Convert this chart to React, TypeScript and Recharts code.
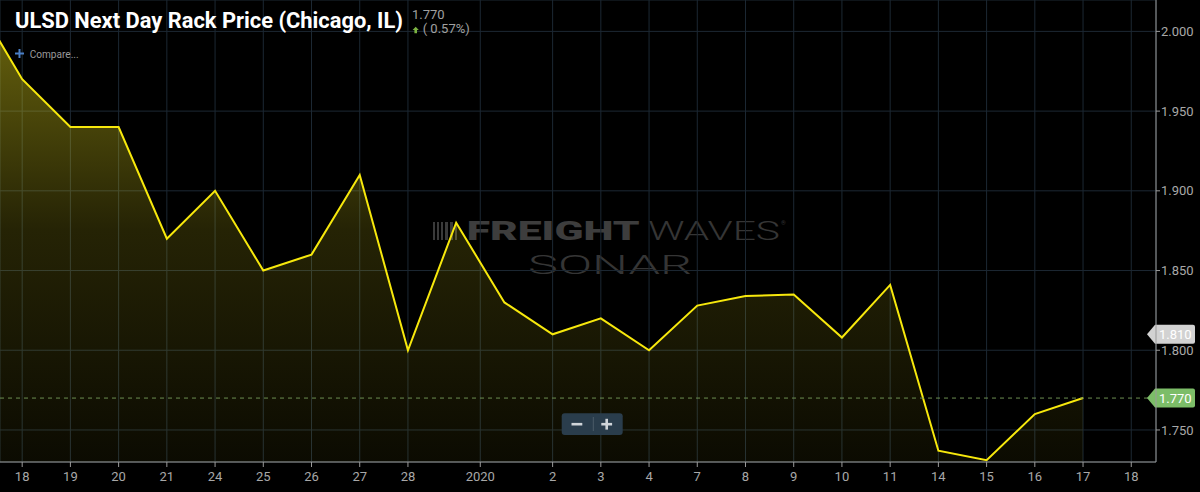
import React from 'react';
import { ComposedChart, Area, XAxis, YAxis, CartesianGrid, ReferenceLine } from 'recharts';

// Trading days (Dec 17 .. Jan 17), slot = trading-day index on the axis
const dates = ['Dec 17', 'Dec 18', 'Dec 19', 'Dec 20', 'Dec 21', 'Dec 24', 'Dec 25', 'Dec 26', 'Dec 27', 'Dec 28', 'Dec 31', 'Jan 1', 'Jan 2', 'Jan 3', 'Jan 4', 'Jan 7', 'Jan 8', 'Jan 9', 'Jan 10', 'Jan 11', 'Jan 14', 'Jan 15', 'Jan 16', 'Jan 17'];
const slots = [-1, 0, 1, 2, 3, 4, 5, 6, 7, 8, 9, 10, 11, 12, 13, 14, 15, 16, 17, 18, 19, 20, 21, 22];
const prices = [2.021, 1.970, 1.940, 1.940, 1.870, 1.900, 1.850, 1.860, 1.910, 1.800, 1.880, 1.830, 1.810, 1.820, 1.800, 1.828, 1.834, 1.835, 1.808, 1.841, 1.737, 1.731, 1.760, 1.770];

const xTickSlots = [0, 1, 2, 3, 4, 5, 6, 7, 8, 9.5, 11, 12, 13, 14, 15, 16, 17, 18, 19, 20, 21, 22, 23];
const xTickLabels = ['18', '19', '20', '21', '24', '25', '26', '27', '28', '2020', '2', '3', '4', '7', '8', '9', '10', '11', '14', '15', '16', '17', '18'];
const xDomain = [-0.46, 23.513];

const yTicks = [1.75, 1.8, 1.85, 1.9, 1.95, 2.0];
const yDomain = [1.7299, 2.0197];

const title = 'ULSD Next Day Rack Price (Chicago, IL)';
const lastPrice = 1.77;
const markerPrice = 1.81;
const changeText = '( 0.57%)';

const data = slots.map((s, i) => ({ slot: s, date: dates[i], price: prices[i] }));

const FONT = 'Roboto, "Noto Sans", sans-serif';
const AXIS = '#9a9a9a';
const TICK_TEXT = '#a8a8a8';
const GRID = '#1c2833';

const tickLabel = (v: number) => {
  const i = xTickSlots.indexOf(v);
  return i >= 0 ? xTickLabels[i] : '';
};

const makeBadge = (text: string, fill: string) => (props: any) => {
  const vb = props.viewBox || {};
  const right = (vb.x || 0) + (vb.width || 0);
  const y = vb.y || 0;
  const h = 19;
  const tip = right - 9;
  const body = right - 1;
  const end = 1195;
  const d = `M ${tip} ${y} L ${body} ${y - h / 2} L ${end - 2} ${y - h / 2} Q ${end} ${y - h / 2} ${end} ${y - h / 2 + 2} L ${end} ${y + h / 2 - 2} Q ${end} ${y + h / 2} ${end - 2} ${y + h / 2} L ${body} ${y + h / 2} Z`;
  return (
    <g>
      <path d={d} fill={fill} />
      <text x={right + 3} y={y} dy="0.36em" fill="#ffffff" fontSize={13} fontFamily={FONT}>
        {text}
      </text>
    </g>
  );
};

export default function App() {
  return (
    <div style={{ position: 'absolute', left: 0, top: 0, width: 1200, height: 492, background: '#000', overflow: 'hidden' }}>
      {/* watermark */}
      <svg width={1200} height={492} style={{ position: 'absolute', left: 0, top: 0 }}>
        <g fill="#3a3a3a">
          <rect x={433} y={222} width={2} height={18} />
          <rect x={437} y={222} width={2} height={18} />
          <rect x={441} y={222} width={2} height={18} />
          <rect x={445} y={222} width={3} height={18} />
          <rect x={450} y={222} width={3} height={18} />
          <rect x={455} y={222} width={2} height={18} />
        </g>
        <text x={466.7} y={240} fontSize={25} fontWeight={900} fill="#3d3d3d" fontFamily={FONT} textLength={173} lengthAdjust="spacingAndGlyphs">FREIGHT</text>
        <text x={648} y={240} fontSize={25} fontWeight={300} fill="#353535" fontFamily={FONT} textLength={132} lengthAdjust="spacingAndGlyphs">WAVES</text>
        <text x={781} y={225} fontSize={6} fill="#353535" fontFamily={FONT}>®</text>
        <text x={528} y={274} fontSize={26} fontWeight={300} fill="#353535" fontFamily={FONT} textLength={164} lengthAdjust="spacingAndGlyphs">SONAR</text>
      </svg>

      <div style={{ position: 'absolute', left: 0, top: 0 }}>
        <ComposedChart width={1200} height={492} data={data} margin={{ top: 0, right: 0, bottom: 0, left: 0 }}>
          <defs>
            <linearGradient id="fillGrad" x1="0" y1="0" x2="0" y2="1">
              <stop offset="0%" stopColor="#e8dc1e" stopOpacity={0.48} />
              <stop offset="50%" stopColor="#e8dc1e" stopOpacity={0.16} />
              <stop offset="100%" stopColor="#e8dc1e" stopOpacity={0.05} />
            </linearGradient>
          </defs>
          <CartesianGrid stroke={GRID} strokeWidth={1} />
          <XAxis
            dataKey="slot"
            type="number"
            domain={xDomain}
            allowDataOverflow
            ticks={xTickSlots}
            interval={0}
            tickFormatter={tickLabel}
            height={30}
            tickSize={5}
            tickMargin={5}
            axisLine={{ stroke: AXIS }}
            tickLine={{ stroke: AXIS }}
            tick={{ fill: TICK_TEXT, fontSize: 13, fontFamily: FONT }}
          />
          <YAxis
            orientation="right"
            type="number"
            domain={yDomain}
            allowDataOverflow
            ticks={yTicks}
            interval={0}
            width={44}
            tickSize={4}
            tickMargin={1}
            tickFormatter={(v: number) => v.toFixed(3)}
            axisLine={{ stroke: AXIS }}
            tickLine={{ stroke: AXIS }}
            tick={{ fill: TICK_TEXT, fontSize: 13, fontFamily: FONT }}
          />
          <Area
            type="linear"
            dataKey="price"
            stroke="#f7e80c"
            strokeWidth={2}
            fill="url(#fillGrad)"
            fillOpacity={1}
            dot={false}
            activeDot={false}
            isAnimationActive={false}
          />
          <ReferenceLine y={lastPrice} stroke="#6c8f52" strokeDasharray="4 4" label={makeBadge(lastPrice.toFixed(3), '#7cbd68')} />
          <ReferenceLine y={markerPrice} stroke="none" strokeOpacity={0} label={makeBadge(markerPrice.toFixed(3), '#d2d2d2')} />
        </ComposedChart>
      </div>

      {/* overlay: title, header, controls */}
      <svg width={1200} height={492} style={{ position: 'absolute', left: 0, top: 0, pointerEvents: 'none' }}>
        <text x={15} y={28} fontSize={22.5} fontWeight={700} fill="#ffffff" fontFamily={FONT} textLength={388} lengthAdjust="spacingAndGlyphs">{title}</text>
        <text x={412} y={18.5} fontSize={13} fill="#a0a0a0" fontFamily={FONT}>{lastPrice.toFixed(3)}</text>
        <polygon points="415.7,26.8 418.8,30 417,30 417,33.3 414.4,33.3 414.4,30 412.6,30" fill="#7cb342" />
        <text x={422.7} y={32.8} fontSize={13} fill="#a0a0a0" fontFamily={FONT}>{changeText}</text>
        <g stroke="#4a7fc6" strokeWidth={2}>
          <line x1={15} y1={53.5} x2={24} y2={53.5} />
          <line x1={19.5} y1={49} x2={19.5} y2={58} />
        </g>
        <text x={29.7} y={57.8} fontSize={10.5} fill="#9a9a9a" fontFamily={FONT} textLength={49} lengthAdjust="spacingAndGlyphs">Compare...</text>
        <rect x={561.7} y={413.3} width={61} height={21.7} rx={3} fill="#2a3d4c" />
        <line x1={593.3} y1={417} x2={593.3} y2={431} stroke="#4b5c68" strokeWidth={1} />
        <g stroke="#d0d5d9" strokeWidth={2.6}>
          <line x1={571.5} y1={424.2} x2={582.3} y2={424.2} />
          <line x1={601.3} y1={424.2} x2={612.1} y2={424.2} />
          <line x1={606.7} y1={418.8} x2={606.7} y2={429.6} />
        </g>
      </svg>
    </div>
  );
}
